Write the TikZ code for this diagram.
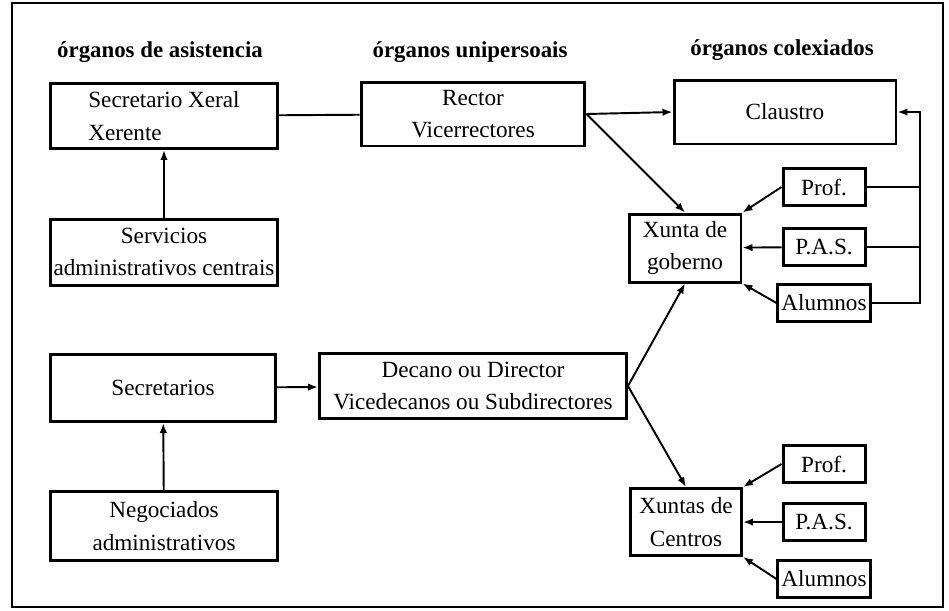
\documentclass[tikz,border=0pt]{standalone}
\usepackage{fontspec}
\setmainfont{Liberation Serif}
\usetikzlibrary{arrows.meta}

\tikzset{
  box/.style={draw,line width=1.7pt,inner sep=2pt,align=center,font=\fontsize{13.2}{18.5}\selectfont},
  small/.style={box,minimum width=1.64cm,minimum height=0.74cm},
  head/.style={font=\fontsize{13}{15}\selectfont\bfseries},
  arr/.style={line width=1.1pt,-{Latex[length=2mm,width=1.5mm]}},
  con/.style={line width=1.1pt}
}

\begin{document}
\begin{tikzpicture}[x=0.02cm,y=-0.02cm]
  \useasboundingbox (0,0) rectangle (949,610);
  \draw[line width=1.5pt] (12,3) rectangle (943,607);
  \node[head] (hasist) at (160,52) {órganos de asistencia};
  \node[head] (hunip) at (470,52) {órganos unipersoais};
  \node[head] (hcolex) at (782,50) {órganos colexiados};
  \node[box,align=left,minimum width=4.54cm,minimum height=1.3cm] (secx) at (164,116) {Secretario Xeral\\Xerente};
  \node[box,minimum width=4.54cm,minimum height=1.32cm] (serv) at (164,252) {Servicios\\administrativos centrais};
  \node[box,minimum width=4.48cm,minimum height=1.28cm] (rector) at (473,114) {Rector\\Vicerrectores};
  \node[box,minimum width=4.44cm,minimum height=1.28cm] (claustro) at (785,112) {Claustro};
  \node[box,minimum width=2.24cm,minimum height=1.36cm] (xgob) at (685,248) {Xunta de\\goberno};
  \node[small] (profA) at (824,187) {Prof.};
  \node[small] (pasA) at (824,247) {P.A.S.};
  \node[small] (alumA) at (824,303) {Alumnos};
  \node[box,minimum width=4.5cm,minimum height=1.34cm] (secr) at (163,388) {Secretarios};
  \node[box,minimum width=4.54cm,minimum height=1.38cm] (neg) at (164,526) {Negociados\\administrativos};
  \node[box,minimum width=6.14cm,minimum height=1.3cm] (decano) at (473,386) {Decano ou Director\\Vicedecanos ou Subdirectores};
  \node[box,minimum width=2.22cm,minimum height=1.34cm] (xcen) at (686,522) {Xuntas de\\Centros};
  \node[small] (profB) at (824,464) {Prof.};
  \node[small] (pasB) at (824,522) {P.A.S.};
  \node[small] (alumB) at (824,579) {Alumnos};
  \coordinate (bus) at (920,112);
  \draw[con] (secx) -- (rector);
  \draw[arr] (serv) -- (secx);
  \draw[arr] (rector.east) -- (claustro.west);
  \draw[arr] (rector.east) -- (xgob.north);
  \draw[arr] (profA.west) -- (xgob.north east);
  \draw[arr] (pasA) -- (xgob);
  \draw[arr] (alumA.west) -- (xgob.south east);
  \draw[con] (profA.east) -- (profA.east -| bus);
  \draw[con] (pasA.east) -- (pasA.east -| bus);
  \draw[arr] (alumA.east) -| (bus) -- (claustro.east);
  \draw[arr] (neg) -- (secr);
  \draw[arr] (secr) -- (decano);
  \draw[arr] (decano.east) -- (xgob.south);
  \draw[arr] (decano.east) -- (xcen.north);
  \draw[arr] (profB.west) -- (xcen.north east);
  \draw[arr] (pasB) -- (xcen);
  \draw[arr] (alumB.west) -- (xcen.south east);
\end{tikzpicture}
\end{document}
